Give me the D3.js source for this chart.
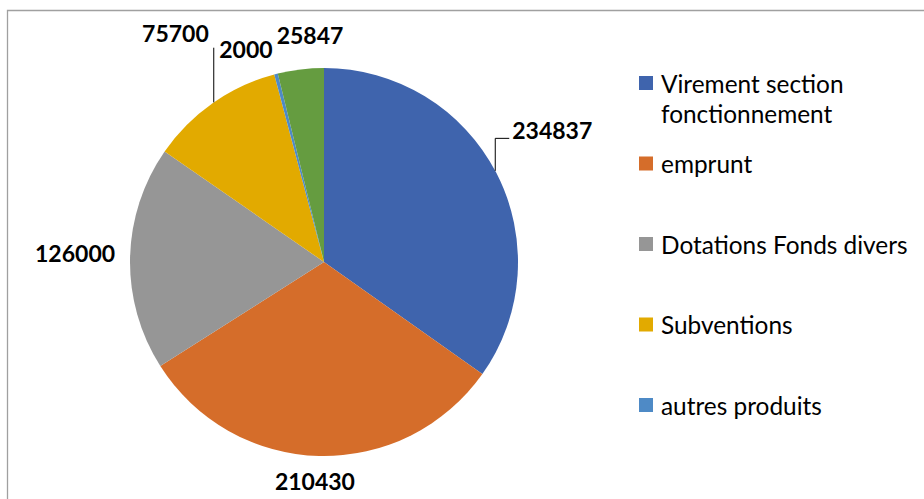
<!DOCTYPE html>
<html>
<head>
<meta charset="utf-8">
<script src="https://cdn.jsdelivr.net/npm/d3@7"></script>
<style>
  body { margin: 0; background: #fff; }
  svg { display: block; font-family: Lato, "Open Sans", sans-serif; }
</style>
</head>
<body>
<div id="chart"></div>
<script>
// slice data, clockwise from 12 o'clock
var categories = ['Virement section fonctionnement', 'emprunt', 'Dotations Fonds divers', 'Subventions', 'autres produits', 'Excédent'];
var values = [234837, 210430, 126000, 75700, 2000, 25847];
var colors = ['#3f64ad', '#d56d2a', '#969696', '#e2aa00', '#4e8ac6', '#659c40'];
var legendShown = 5; // the last legend entry is cut off in the original

var width = 924, height = 499;
var cx = 324, cy = 262, R = 194;

var svg = d3.select('#chart').append('svg')
  .attr('width', width)
  .attr('height', height);

// chart frame (runs off the right and bottom edge)
svg.append('path')
  .attr('d', 'M7.5,' + height + 'V10.5H' + width)
  .attr('fill', 'none')
  .attr('stroke', '#a0a0a0')
  .attr('stroke-width', 1.3);

var pie = d3.pie().sort(null).value(d => d)(values);
var arc = d3.arc().innerRadius(0).outerRadius(R);

var g = svg.append('g').attr('transform', 'translate(' + cx + ',' + cy + ')');

g.selectAll('path.slice')
  .data(pie)
  .enter().append('path')
  .attr('class', 'slice')
  .attr('d', arc)
  .attr('fill', (d, i) => colors[i]);

// data labels: placed just outside the arc, then nudged like the original
var nudges = [[8, -31], [-3, 0], [-1, -5], [-10, -50], [-20, -1], [15, -10]];
var gap = 14, boxH = 22;
var labels = g.selectAll('text.val')
  .data(pie)
  .enter().append('text')
  .attr('class', 'val')
  .attr('text-anchor', 'middle')
  .attr('dominant-baseline', 'central')
  .attr('font-weight', 'bold')
  .attr('font-size', 23)
  .attr('fill', '#000')
  .text(d => d.value);

var boxes = [];
labels.each(function(d, i) {
  var w = this.getComputedTextLength();
  var a = (d.startAngle + d.endAngle) / 2;
  var px = Math.sin(a) * (R + gap), py = -Math.cos(a) * (R + gap);
  var x = px + Math.sin(a) * w / 2 + nudges[i][0];
  var y = py - Math.cos(a) * boxH / 2 + nudges[i][1];
  d3.select(this).attr('x', x).attr('y', y);
  boxes[i] = { x0: x - w / 2, x1: x + w / 2, y0: y - boxH / 2, y1: y + boxH / 2 };
});

// leader lines for the two labels that were moved away from their slice
function arcY(x) { return -Math.sqrt(R * R - x * x); }
var b0 = boxes[0];
var lx0 = b0.x0 - 17;
g.append('path')
  .attr('d', 'M' + (b0.x0 - 3) + ',' + (b0.y1 - 3) + 'H' + lx0 + 'V' + arcY(lx0))
  .attr('fill', 'none').attr('stroke', '#000').attr('stroke-width', 1);
var b3 = boxes[3];
var lx3 = b3.x1 + 5;
g.append('path')
  .attr('d', 'M' + lx3 + ',' + (b3.y1 + 4) + 'V' + arcY(lx3))
  .attr('fill', 'none').attr('stroke', '#000').attr('stroke-width', 1);

// legend
var legendY = d3.scalePoint().domain(d3.range(legendShown)).range([83, 405]);
var legend = svg.append('g').attr('class', 'legend');
var items = legend.selectAll('g')
  .data(d3.range(legendShown))
  .enter().append('g')
  .attr('transform', i => 'translate(639,' + legendY(i) + ')');
items.append('rect')
  .attr('x', 0).attr('y', -7)
  .attr('width', 14).attr('height', 14)
  .attr('fill', i => colors[i]);
items.append('text')
  .attr('x', 22)
  .attr('font-size', 24.4)
  .attr('fill', '#000')
  .each(function(i) {
    var words = categories[i] === 'Virement section fonctionnement'
      ? ['Virement section', 'fonctionnement'] : [categories[i]];
    var t = d3.select(this);
    words.forEach((w, k) => {
      t.append('tspan').attr('x', 22).attr('y', k * 30)
        .attr('dominant-baseline', 'central').text(w);
    });
  });
</script>
</body>
</html>
